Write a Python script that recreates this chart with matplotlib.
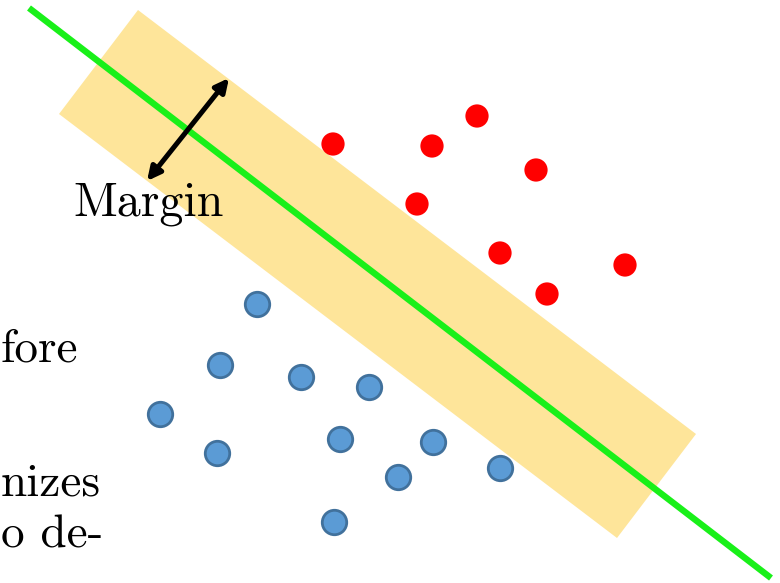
import matplotlib
matplotlib.use('Agg')
import matplotlib.pyplot as plt
from matplotlib.patches import Polygon

# everything in picture pixels (y grows downward)
band_x = [138, 59, 617, 696]
band_y = [10, 114, 538, 434]

line_x = [29, 771]
line_y = [8, 578]

red_x = [333, 432, 477, 536, 417, 500, 625, 547]
red_y = [144, 146, 116, 170, 204, 253, 265, 294]

blue_x = [257, 220, 301, 369, 160, 217, 340, 433, 398, 500, 334]
blue_y = [304, 365, 377, 387, 414, 453, 439, 442, 477, 468, 522]

arrow_from = (147, 181)
arrow_to = (229, 78)

side_words = ['fore', 'nizes', 'o de-']
side_x = [1, 1, 1]
side_y = [361, 496, 548]

fig = plt.figure(figsize=(7.8, 5.83), dpi=100)
ax = fig.add_axes([0, 0, 1, 1])
ax.set_xlim(0, 780)
ax.set_ylim(583, 0)
ax.axis('off')

ax.add_patch(Polygon(list(zip(band_x, band_y)), closed=True,
                     facecolor='#fee59a', edgecolor='none', zorder=1))
ax.plot(line_x, line_y, color='#19f019', lw=4.6, solid_capstyle='butt', zorder=2)

ax.scatter(red_x, red_y, s=280, color='#ff0000', edgecolors='none', zorder=3)
ax.scatter(blue_x, blue_y, s=310, color='#5b9bd5', edgecolors='#41719c',
           linewidths=2, zorder=3)

ax.annotate('', xy=arrow_to, xytext=arrow_from,
            arrowprops=dict(arrowstyle='<|-|>,head_length=0.8,head_width=0.4',
                            color='black', lw=3.6, shrinkA=0, shrinkB=0), zorder=4)

ax.text(149, 215, 'Margin', family='cmr10', fontsize=34.5,
        ha='center', va='baseline', zorder=5)

for w, x, y in zip(side_words, side_x, side_y):
    ax.text(x, y, w, family='cmr10', fontsize=34, ha='left', va='baseline')

fig.savefig('out.png', dpi=100)
